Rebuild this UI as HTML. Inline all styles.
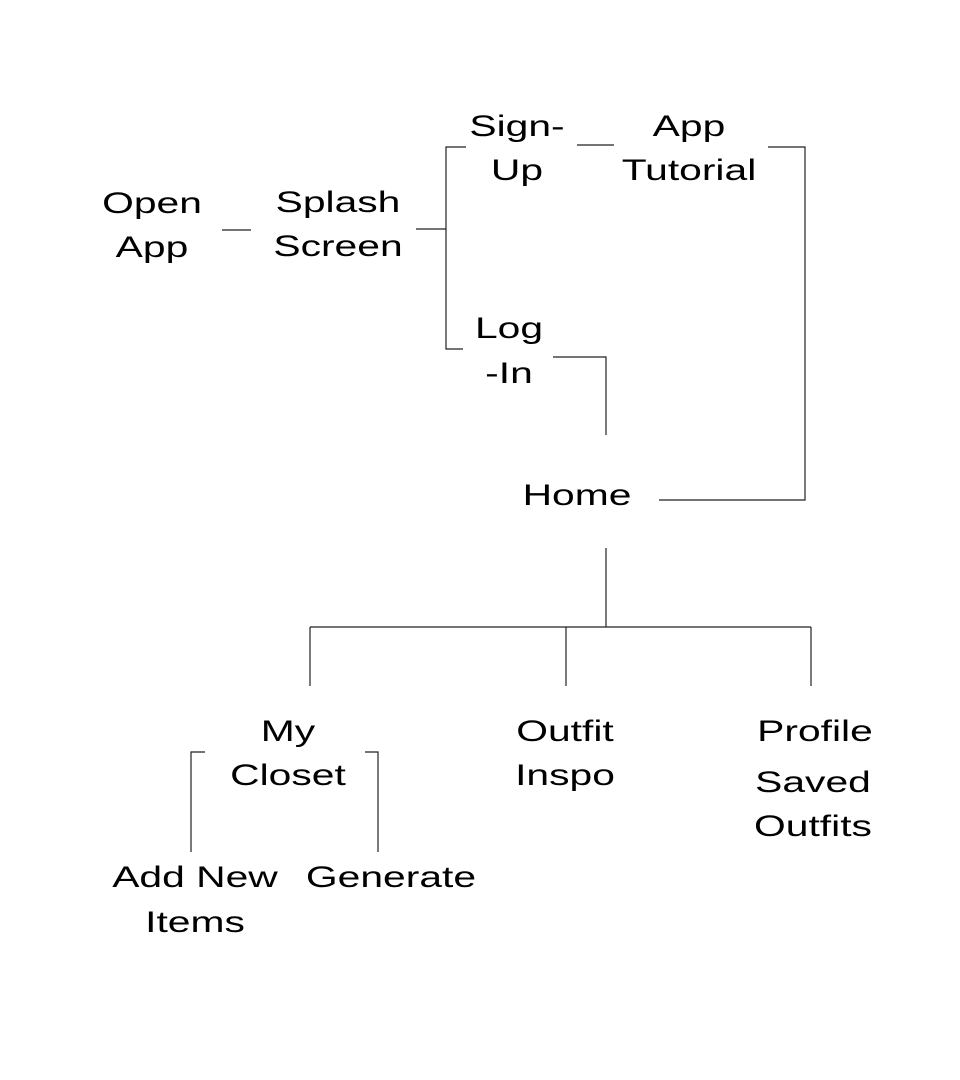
<!DOCTYPE html>
<html><head><meta charset="utf-8"><style>
html,body{margin:0;padding:0;background:#fff;}
body{width:960px;height:1080px;position:relative;overflow:hidden;}
.t{position:absolute;width:300px;height:40px;line-height:40px;text-align:center;font-family:"Liberation Sans",sans-serif;font-size:30px;color:#000;transform:scaleX(1.36);white-space:nowrap;}
svg{position:absolute;left:0;top:0;}
</style></head><body>
<svg width="960" height="1080" stroke="#222" stroke-width="1.2" fill="none">
<line x1="222" y1="230" x2="251" y2="230"/>
<line x1="416" y1="229" x2="446" y2="229"/>
<polyline points="466,147 446,147 446,349 463,349"/>
<line x1="577" y1="145" x2="614" y2="145"/>
<polyline points="768,147 805,147 805,500 659,500"/>
<polyline points="553,357 606,357 606,435"/>
<line x1="606" y1="548" x2="606" y2="627"/>
<line x1="310" y1="627" x2="811" y2="627"/>
<line x1="310" y1="627" x2="310" y2="686"/>
<line x1="566" y1="627" x2="566" y2="686"/>
<line x1="811" y1="627" x2="811" y2="686"/>
<polyline points="205,752 191,752 191,852"/>
<polyline points="365,752 378,752 378,852"/>
</svg>
<div class="t" style="left:2px;top:184px">Open</div>
<div class="t" style="left:2px;top:228px">App</div>
<div class="t" style="left:188px;top:183px">Splash</div>
<div class="t" style="left:188px;top:227px">Screen</div>
<div class="t" style="left:367px;top:107px">Sign-</div>
<div class="t" style="left:367px;top:151px">Up</div>
<div class="t" style="left:539px;top:107px">App</div>
<div class="t" style="left:539px;top:151px">Tutorial</div>
<div class="t" style="left:359px;top:309px">Log</div>
<div class="t" style="left:359px;top:354px">-In</div>
<div class="t" style="left:427px;top:476px">Home</div>
<div class="t" style="left:138px;top:712px">My</div>
<div class="t" style="left:138px;top:756px">Closet</div>
<div class="t" style="left:415px;top:712px">Outfit</div>
<div class="t" style="left:415px;top:756px">Inspo</div>
<div class="t" style="left:665px;top:712px">Profile</div>
<div class="t" style="left:663px;top:763px">Saved</div>
<div class="t" style="left:663px;top:807px">Outfits</div>
<div class="t" style="left:45px;top:858px">Add New</div>
<div class="t" style="left:45px;top:903px">Items</div>
<div class="t" style="left:241px;top:858px">Generate</div>
</body></html>
